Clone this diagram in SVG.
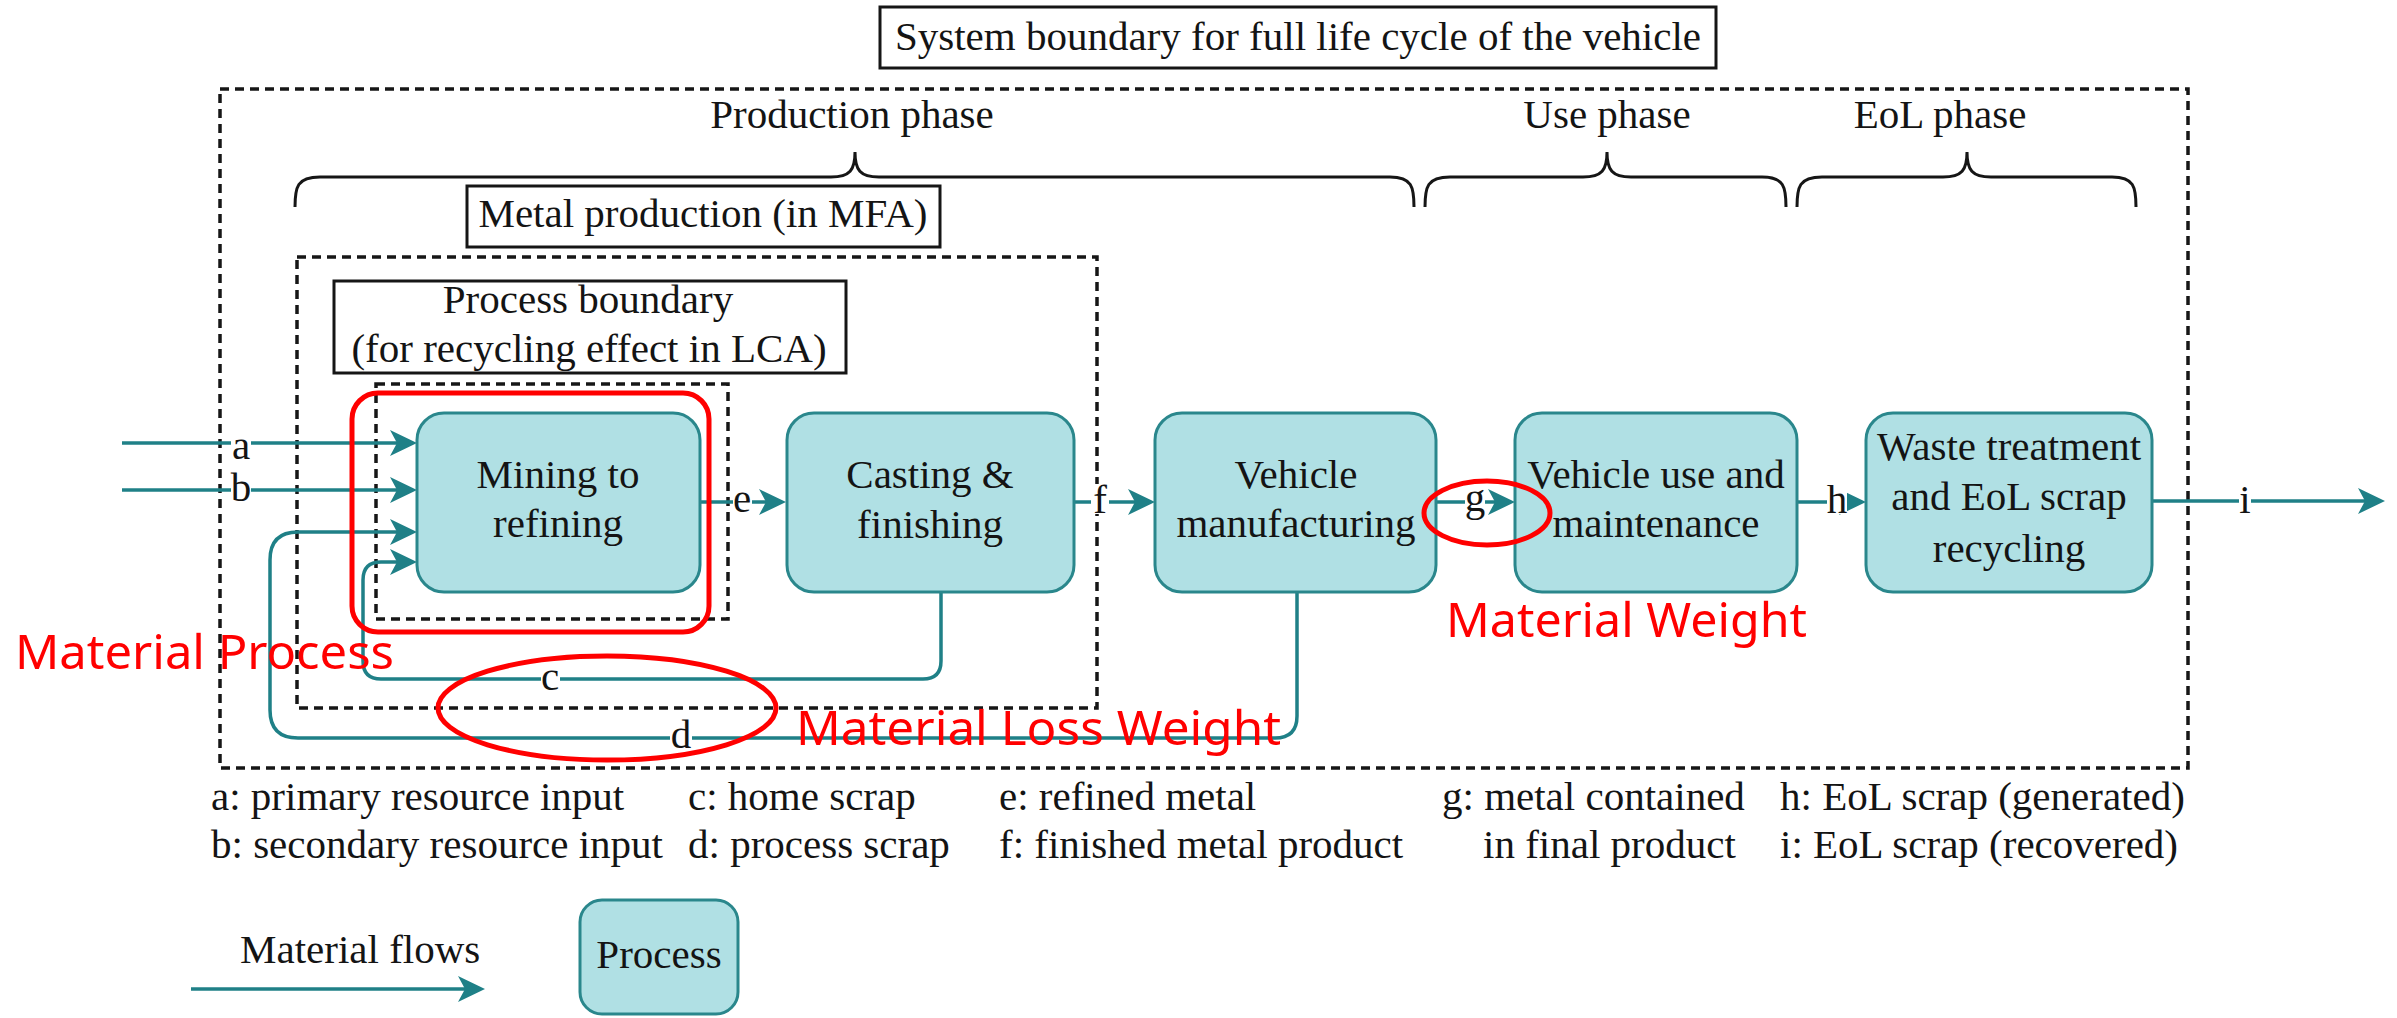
<svg xmlns="http://www.w3.org/2000/svg" width="2397" height="1018" viewBox="0 0 2397 1018">
  <style>
    .t { font-family: "Liberation Serif", "Times New Roman", serif; font-size: 41px; fill: #141414; }
    .mid { text-anchor: middle; }
    .box { fill: #b0e0e4; stroke: #2a878c; stroke-width: 3; }
    .flow { fill: none; stroke: #1f8087; stroke-width: 3.5; }
    .dash { fill: none; stroke: #161616; stroke-width: 3.5; stroke-dasharray: 9 6; }
    .frame { fill: #ffffff; stroke: #161616; stroke-width: 3; }
    .brace { fill: none; stroke: #161616; stroke-width: 3; }
    .bg { fill: #ffffff; }
    .mark { fill: none; stroke: #ff0000; stroke-width: 5; }
    .note { font-family: "Noto Sans", "Liberation Sans", sans-serif; font-size: 48px; fill: #ff0000; }
  </style>
  <defs>
    <marker id="arrow" markerUnits="userSpaceOnUse" markerWidth="30" markerHeight="28" refX="19" refY="13" orient="auto">
      <path d="M0,0 L27,13 L0,26 L7,13 z" fill="#1f8087"/>
    </marker>
  </defs>

  <rect width="2397" height="1018" fill="#ffffff"/>

  <!-- system boundaries -->
  <g id="boundaries">
    <rect class="dash" x="220" y="89" width="1968" height="679"/>
    <rect class="dash" x="297" y="257" width="800" height="451"/>
    <rect class="dash" x="376" y="384" width="352" height="235"/>
  </g>

  <!-- titles and phase braces -->
  <g id="system-title">
    <rect class="frame" x="880" y="7" width="836" height="61"/>
    <text class="t mid" x="1298" y="50">System boundary for full life cycle of the vehicle</text>
  </g>
  <g id="phases">
    <text class="t mid" x="852" y="128">Production phase</text>
    <text class="t mid" x="1607" y="128">Use phase</text>
    <text class="t mid" x="1940" y="128">EoL phase</text>
    <path class="brace" d="M295,207 C295,187 297,177 320,177 L831,177 C850,177 855,170 855,152 C855,170 860,177 879,177 L1390,177 C1412,177 1414,187 1414,207"/>
    <path class="brace" d="M1425,207 C1425,187 1427,177 1450,177 L1583,177 C1602,177 1607,170 1607,152 C1607,170 1612,177 1631,177 L1762,177 C1784,177 1786,187 1786,207"/>
    <path class="brace" d="M1797,207 C1797,187 1799,177 1822,177 L1943,177 C1962,177 1967,170 1967,152 C1967,170 1972,177 1991,177 L2112,177 C2134,177 2136,187 2136,207"/>
  </g>
  <g id="metal-production-title">
    <rect class="frame" x="467" y="186" width="473" height="61"/>
    <text class="t mid" x="703" y="227">Metal production (in MFA)</text>
  </g>
  <g id="process-boundary-title">
    <rect class="frame" x="334" y="281" width="512" height="92"/>
    <text class="t mid" x="588" y="313">Process boundary</text>
    <text class="t mid" x="589" y="362">(for recycling effect in LCA)</text>
  </g>

  <!-- material flows -->
  <g id="connectors">
    <path class="flow" marker-end="url(#arrow)" d="M122,443 H409"/>
    <path class="flow" marker-end="url(#arrow)" d="M122,490 H409"/>
    <path class="flow" marker-end="url(#arrow)" d="M1297,592 V716 Q1297,738 1275,738 H298 Q270,738 270,710 V560 Q270,532 298,532 H409"/>
    <path class="flow" marker-end="url(#arrow)" d="M941,592 V661 Q941,679 923,679 H381 Q363,679 363,661 V580 Q363,562 381,562 H409"/>
    <path class="flow" marker-end="url(#arrow)" d="M700,502 H778"/>
    <path class="flow" marker-end="url(#arrow)" d="M1074,502 H1147"/>
    <path class="flow" marker-end="url(#arrow)" d="M1436,502 H1507"/>
    <path class="flow" marker-end="url(#arrow)" d="M1797,502 H1858"/>
    <path class="flow" marker-end="url(#arrow)" d="M2152,501 H2377"/>

    <!-- flow labels -->
    <rect class="bg" x="231" y="441" width="20" height="20"/>
    <text class="t mid" x="241" y="459">a</text>
    <rect class="bg" x="231" y="476" width="20" height="26"/>
    <text class="t mid" x="241" y="501">b</text>
    <rect class="bg" x="733" y="492" width="19" height="20"/>
    <text class="t mid" x="742" y="512">e</text>
    <rect class="bg" x="1091" y="484" width="18" height="30"/>
    <text class="t mid" x="1100" y="513">f</text>
    <rect class="bg" x="1465" y="492" width="20" height="20"/>
    <text class="t mid" x="1475" y="511">g</text>
    <rect class="bg" x="1827" y="484" width="20" height="30"/>
    <text class="t mid" x="1837" y="513">h</text>
    <rect class="bg" x="2239" y="486" width="12" height="27"/>
    <text class="t mid" x="2245" y="513">i</text>
    <rect class="bg" x="541" y="672" width="19" height="18"/>
    <text class="t mid" x="550" y="690">c</text>
    <rect class="bg" x="670" y="724" width="22" height="24"/>
    <text class="t mid" x="681" y="748">d</text>
  </g>

  <!-- processes -->
  <g id="mining">
    <rect class="box" x="417" y="413" width="283" height="179" rx="27"/>
    <text class="t mid" x="558" y="488">Mining to</text>
    <text class="t mid" x="558" y="537">refining</text>
  </g>
  <g id="casting">
    <rect class="box" x="787" y="413" width="287" height="179" rx="27"/>
    <text class="t mid" x="930" y="488">Casting &amp;</text>
    <text class="t mid" x="930" y="538">finishing</text>
  </g>
  <g id="manufacturing">
    <rect class="box" x="1155" y="413" width="281" height="179" rx="27"/>
    <text class="t mid" x="1296" y="488">Vehicle</text>
    <text class="t mid" x="1296" y="537">manufacturing</text>
  </g>
  <g id="use">
    <rect class="box" x="1515" y="413" width="282" height="179" rx="27"/>
    <text class="t mid" x="1656" y="488">Vehicle use and</text>
    <text class="t mid" x="1656" y="537">maintenance</text>
  </g>
  <g id="eol">
    <rect class="box" x="1866" y="413" width="286" height="179" rx="27"/>
    <text class="t mid" x="2009" y="460">Waste treatment</text>
    <text class="t mid" x="2009" y="510">and EoL scrap</text>
    <text class="t mid" x="2009" y="562">recycling</text>
  </g>

  <!-- flow key -->
  <g id="key-text">
    <text class="t" x="211" y="810">a: primary resource input</text>
    <text class="t" x="211" y="858">b: secondary resource input</text>
    <text class="t" x="688" y="810">c: home scrap</text>
    <text class="t" x="688" y="858">d: process scrap</text>
    <text class="t" x="999" y="810">e: refined metal</text>
    <text class="t" x="999" y="858">f: finished metal product</text>
    <text class="t" x="1442" y="810">g: metal contained</text>
    <text class="t" x="1483" y="858">in final product</text>
    <text class="t" x="1780" y="810">h: EoL scrap (generated)</text>
    <text class="t" x="1780" y="858">i: EoL scrap (recovered)</text>
  </g>
  <g id="legend-flow">
    <text class="t" x="240" y="963">Material flows</text>
    <path class="flow" marker-end="url(#arrow)" d="M191,989 H477"/>
  </g>
  <g id="legend-process">
    <rect class="box" x="580" y="900" width="158" height="114" rx="22"/>
    <text class="t mid" x="659" y="968">Process</text>
  </g>

  <!-- highlights -->
  <g id="highlights">
    <rect class="mark" x="352" y="393" width="357" height="239" rx="26"/>
    <ellipse class="mark" cx="607" cy="708" rx="169" ry="52"/>
    <ellipse class="mark" cx="1487" cy="513" rx="63" ry="32"/>
    <text class="note" x="15" y="669" textLength="379" lengthAdjust="spacingAndGlyphs">Material Process</text>
    <text class="note" x="796" y="745" textLength="485" lengthAdjust="spacingAndGlyphs">Material Loss Weight</text>
    <text class="note" x="1446" y="637" textLength="361" lengthAdjust="spacingAndGlyphs">Material Weight</text>
  </g>
</svg>
